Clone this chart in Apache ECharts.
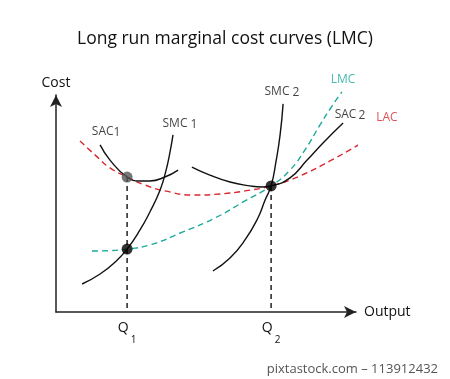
<!DOCTYPE html>
<html><head><meta charset="utf-8">
<script src="https://cdn.jsdelivr.net/npm/echarts@6/dist/echarts.min.js"></script>
<style>html,body{margin:0;padding:0;background:#fff}#c{width:450px;height:379px}</style>
</head><body><div id="c"></div>
<script>
// Curves as [output, cost] points (axes 0..100)
const sac1 = [[14.7,77.0],[18,70],[23.7,62.2],[28,60.4],[31.3,60.4],[36.3,62.2],[40.7,65.4]];
const smc1 = [[8.7,12.9],[14.7,17.5],[19.7,23.0],[23.7,29.0],[28,37.8],[31.3,46.1],[34.7,56.2],[36.7,65.4],[38,73.7],[39,81.6]];
const sac2 = [[45.3,66.8],[51.3,63.1],[58,59.9],[64.7,58.1],[68.7,57.6],[71.7,58.1],[78,61.8],[83.7,70],[89,77.9],[95.7,87.1]];
const smc2 = [[52.3,18.9],[58,24.9],[63,33.2],[67.3,43.3],[69.7,51.6],[71.7,58.1],[73.3,69.1],[74.7,81.6],[75.7,95.9]];
const lac = [[8,78.8],[13,72.4],[18,66.4],[23.7,62.2],[29.7,58.5],[36.3,55.8],[45.7,53.9],[54.7,54.4],[63,55.8],[71.7,58.1],[81.3,62.7],[91.3,69.6],[101.3,77.4],[110.3,84.8]];
const lmc = [[12,28.1],[18,28.3],[23.7,29.0],[31.3,30.9],[42.3,36.9],[53,43.3],[63,51.2],[71.7,58.1],[78,65.4],[83,74.7],[88,86.2],[92,94.9],[95.3,101.4]];
const quantities = [23.7, 71.7];
const quantityLabels = ['Q1', 'Q2'];
const tangentPoints = [[23.7,62.2],[71.7,58.1]];
const lmcPoints = [[23.7,29.0]];
const curveLabels = [
  {name:'SAC', sub:'1', gap:0, at:[16.7,82.5], color:'#111'},
  {name:'SMC', sub:'1', gap:3, at:[41.3,86.2], color:'#111'},
  {name:'SMC', sub:'2', gap:3, at:[75.3,100.9], color:'#111'},
  {name:'LMC', sub:'', gap:0, at:[95.7,106.9], color:'#1aa99a'},
  {name:'SAC', sub:'2', gap:2, at:[98,90.3], color:'#111'},
  {name:'LAC', sub:'', gap:0, at:[110.3,89.4], color:'#d9282e'}
];
const RED = '#d9282e', TEAL = '#1aa99a';
const font = '"Open Sans", "Noto Sans", sans-serif';

const chart = echarts.init(document.getElementById('c'));
function curve(data, color, dashed){
  return {type:'line', data, smooth:0.5, showSymbol:false, clip:false, silent:true,
    lineStyle:{color, width:1.4, type: dashed ? [6,4] : 'solid'}, z:3};
}
const dropLines = tangentPoints.map(p => ({type:'line', data:[p,[p[0],0]], showSymbol:false, clip:false,
  lineStyle:{color:'#111', width:1.4, type:[5,4]}, z:2}));

chart.setOption({
  animation:false,
  textStyle:{fontFamily:font},
  title:{text:'Long run marginal cost curves (LMC)', left:'center', top:25,
    textStyle:{fontSize:17.5, fontWeight:'normal', color:'#111', fontFamily:font}},
  grid:{left:56, top:95, width:300, height:217},
  xAxis:{type:'value', min:0, max:100, splitLine:{show:false},
    name:'Output', nameLocation:'end', nameGap:8, nameTextStyle:{fontSize:14, color:'#111'},
    axisLine:{lineStyle:{color:'#222', width:1.5}, symbol:['none','arrow'], symbolSize:[9,12]},
    axisTick:{show:false},
    axisLabel:{customValues:quantities, margin:9, color:'#111',
      formatter:(v)=>{const i=quantities.indexOf(v); const t=quantityLabels[i]; return '{a|'+t[0]+'}{s|'+t.slice(1)+'}';},
      rich:{a:{fontSize:14, verticalAlign:'top', padding:[0,0,10,0]}, s:{fontSize:10, verticalAlign:'bottom', padding:[0,0,0,2]}}}
  },
  yAxis:{type:'value', min:0, max:100, splitLine:{show:false},
    name:'Cost', nameLocation:'end', nameGap:5, nameTextStyle:{fontSize:14, color:'#111', align:'center'},
    axisLine:{lineStyle:{color:'#222', width:1.5}, symbol:['none','arrow'], symbolSize:[9,12]},
    axisTick:{show:false}, axisLabel:{show:false}},
  series:[
    curve(lac, RED, true),
    curve(lmc, TEAL, true),
    curve(sac1, '#111', false),
    curve(smc1, '#111', false),
    curve(sac2, '#111', false),
    curve(smc2, '#111', false),
    ...dropLines,
    {type:'scatter', data:[tangentPoints[0]], symbolSize:11, itemStyle:{color:'#555'}, z:5},
    {type:'scatter', data:[tangentPoints[1], ...lmcPoints], symbolSize:11, itemStyle:{color:'#000'}, z:5},
    {type:'scatter', clip:false, symbolSize:0, z:6, silent:true,
      data: curveLabels.map(l=>({value:l.at, name:l.name,
        label:{show:true, position:'inside', color:l.color,
          formatter: l.sub ? '{n|'+l.name+'}{s|'+l.sub+'}' : '{c|'+l.name+'}',
          rich:{n:{fontSize:12, color:l.color, padding:[0,0,3,0]}, s:{fontSize:12, color:l.color, padding:[0,0,0,l.gap]},
            c:{fontSize:12, color:l.color}}}}))}
  ],
  graphic:[{type:'text', right:12, bottom:3, style:{text:'pixtastock.com – 113912432', fontSize:13, fill:'#555', fontFamily:font}}]
});
</script></body></html>
